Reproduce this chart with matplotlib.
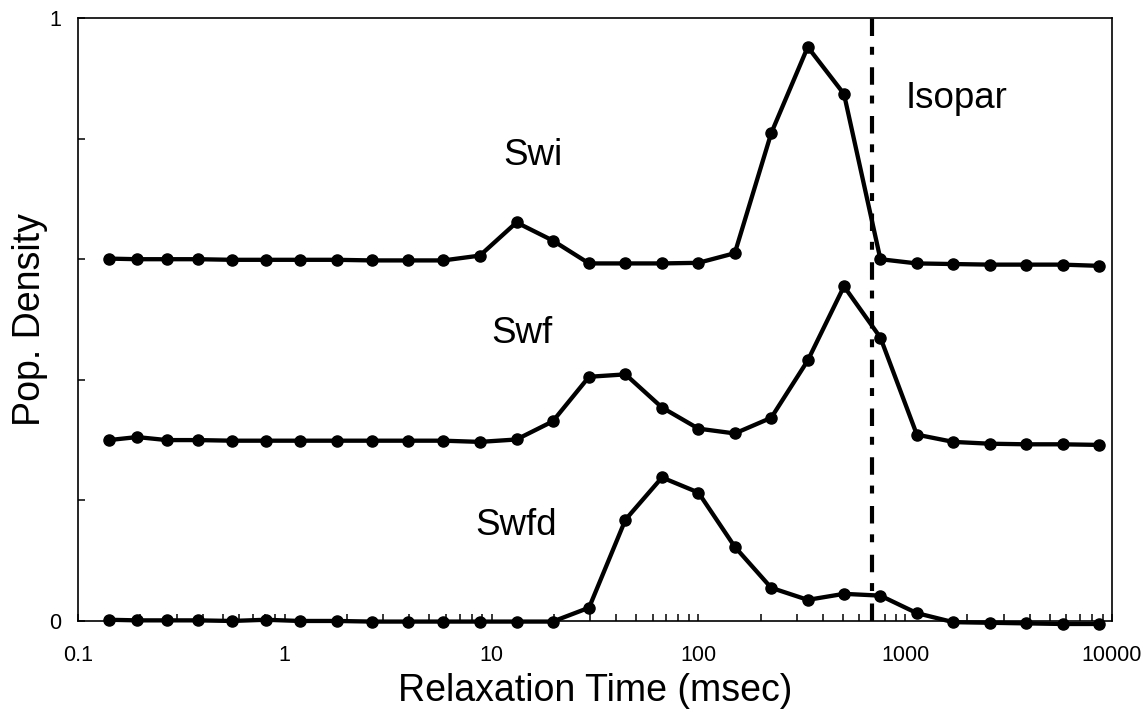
import matplotlib
matplotlib.use("Agg")
import matplotlib.pyplot as plt
from matplotlib.ticker import LogLocator, NullFormatter, FixedLocator, FixedFormatter

plt.rcParams["font.family"] = ["Liberation Sans", "DejaVu Sans"]

# relaxation times (msec)
times = [0.141, 0.193, 0.269, 0.38, 0.555, 0.809, 1.18, 1.78, 2.63, 3.93,
         5.85, 8.78, 13.2, 19.75, 29.6, 44.4, 66.7, 100, 150, 225,
         338, 506, 759, 1139, 1709, 2563, 3844, 5767, 8650]

swi = [0.601, 0.600, 0.600, 0.600, 0.599, 0.599, 0.599, 0.599, 0.598, 0.598,
       0.598, 0.606, 0.661, 0.631, 0.593, 0.593, 0.593, 0.594, 0.610, 0.809,
       0.952, 0.874, 0.600, 0.593, 0.592, 0.591, 0.591, 0.591, 0.589]

swf = [0.300, 0.305, 0.300, 0.300, 0.299, 0.299, 0.299, 0.299, 0.299, 0.299,
       0.299, 0.297, 0.301, 0.331, 0.405, 0.409, 0.354, 0.319, 0.311, 0.337,
       0.432, 0.555, 0.470, 0.309, 0.297, 0.294, 0.293, 0.293, 0.292]

swfd = [0.002, 0.001, 0.001, 0.001, 0.000, 0.002, 0.000, 0.000, -0.001, -0.001,
        -0.001, -0.001, -0.001, -0.001, 0.022, 0.168, 0.238, 0.213, 0.123, 0.055,
        0.035, 0.045, 0.042, 0.013, -0.002, -0.003, -0.004, -0.005, -0.005]

isopar_t = 690

fig = plt.figure(figsize=(11.42, 7.10), dpi=100)
ax = fig.add_axes([0.0683, 0.1254, 0.9054, 0.8492])

for ys in (swi, swf, swfd):
    ax.plot(times, ys, color="black", lw=3.1, marker="o", ms=8,
            clip_on=False, zorder=3)

ax.axvline(isopar_t, color="black", lw=3.0, dashes=(4.2, 3.0, 1.9, 2.6), zorder=2)

ax.set_xscale("log")
ax.set_xlim(0.1, 10000)
ax.set_ylim(0, 1)

ax.xaxis.set_major_locator(FixedLocator([0.1, 1, 10, 100, 1000, 10000]))
ax.xaxis.set_major_formatter(FixedFormatter(["0.1", "1", "10", "100", "1000", "10000"]))
ax.xaxis.set_minor_locator(LogLocator(base=10, subs=range(2, 10)))
ax.xaxis.set_minor_formatter(NullFormatter())

ax.yaxis.set_major_locator(FixedLocator([0, 0.2, 0.4, 0.6, 0.8, 1]))
ax.yaxis.set_major_formatter(FixedFormatter(["0", "", "", "", "", "1"]))

ax.tick_params(axis="both", which="both", direction="in", top=False, right=False,
               width=1.1, labelsize=15.5)
ax.tick_params(axis="x", which="both", length=5, pad=17.5)
ax.tick_params(axis="y", which="major", length=5, pad=12)

for s in ax.spines.values():
    s.set_linewidth(1.2)

ax.set_xlabel("Relaxation Time (msec)", fontsize=27)
ax.xaxis.set_label_coords(0.5, -0.086)
ax.set_ylabel("Pop. Density", fontsize=27)
ax.yaxis.set_label_coords(-0.029, 0.5)

ax.text(15.8, 0.772, "Swi", fontsize=26.5, ha="center", va="center")
ax.text(14.0, 0.477, "Swf", fontsize=26.5, ha="center", va="center")
ax.text(13.2, 0.158, "Swfd", fontsize=26.5, ha="center", va="center")
ax.text(1780, 0.867, "Isopar", fontsize=26.5, ha="center", va="center")

fig.savefig("out.png", dpi=100)
